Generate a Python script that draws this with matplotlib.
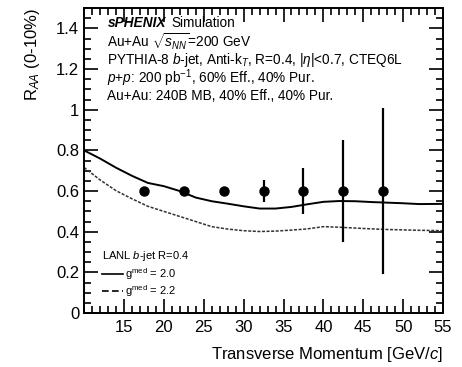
import matplotlib
matplotlib.use("Agg")
import matplotlib.pyplot as plt
from matplotlib.lines import Line2D
from matplotlib.ticker import MultipleLocator

plt.rcParams["font.family"] = ["Liberation Sans", "DejaVu Sans"]
plt.rcParams["mathtext.fontset"] = "custom"
plt.rcParams["mathtext.rm"] = "Liberation Sans"
plt.rcParams["mathtext.it"] = "Liberation Sans:italic"
plt.rcParams["mathtext.bf"] = "Liberation Sans:bold"

# projected sPHENIX b-jet R_AA points
pt_points = [17.5, 22.5, 27.5, 32.5, 37.5, 42.5, 47.5]
raa_points = [0.6, 0.6, 0.6, 0.6, 0.6, 0.6, 0.6]
raa_err = [0.01, 0.015, 0.02, 0.052, 0.113, 0.25, 0.41]

# LANL b-jet calculations
pt_curve = [10, 12, 14, 16, 18, 20, 22, 24, 26, 28, 30, 32, 34, 36, 38, 40,
            42, 44, 46, 48, 50, 52, 55]
raa_g20 = [0.80, 0.76, 0.715, 0.675, 0.64, 0.624, 0.60, 0.568, 0.55, 0.538,
           0.525, 0.514, 0.514, 0.522, 0.535, 0.547, 0.551, 0.55, 0.546,
           0.543, 0.54, 0.536, 0.537]
raa_g22 = [0.716, 0.655, 0.602, 0.562, 0.525, 0.50, 0.475, 0.45, 0.425, 0.413,
           0.405, 0.401, 0.403, 0.408, 0.414, 0.425, 0.422, 0.418, 0.414,
           0.411, 0.409, 0.407, 0.405]

x_ticks = [15, 20, 25, 30, 35, 40, 45, 50, 55]
y_ticks = [0, 0.2, 0.4, 0.6, 0.8, 1, 1.2, 1.4]
y_ticklabels = ["0", "0.2", "0.4", "0.6", "0.8", "1", "1.2", "1.4"]

fig = plt.figure(figsize=(4.62, 3.67), dpi=100)
ax = fig.add_axes([0.182, 0.147, 0.777, 0.831])

ax.plot(pt_curve, raa_g20, color="black", lw=1.4)
ax.plot(pt_curve, raa_g22, color="#333333", lw=1.1, ls=(0, (2, 1)))
ax.errorbar(pt_points, raa_points, yerr=raa_err, fmt="o", color="black",
            ms=6.5, elinewidth=1.6, capsize=0)

ax.set_xlim(10, 55)
ax.set_ylim(0, 1.5)
ax.set_xticks(x_ticks)
ax.xaxis.set_minor_locator(MultipleLocator(1))
ax.set_yticks(y_ticks)
ax.set_yticklabels(y_ticklabels)
ax.yaxis.set_minor_locator(MultipleLocator(0.05))
ax.tick_params(which="both", direction="in", top=True, right=True,
               labelsize=12, width=1.2)
ax.tick_params(which="major", length=10)
ax.tick_params(which="minor", length=5)
ax.tick_params(axis="x", pad=5)
for s in ax.spines.values():
    s.set_linewidth(1.4)

ax.set_xlabel(r"Transverse Momentum [GeV/$c$]", fontsize=12, loc="right",
              labelpad=7)
ax.set_ylabel(r"R$_{AA}$ (0-10%)", fontsize=12, loc="top")
ax.yaxis.set_label_coords(-0.117, 1.0)

# header text
fs = 9.8
y0 = 0.951
t1 = ax.text(0.065, y0, "sPHENIX", transform=ax.transAxes, fontsize=fs,
             fontweight="bold", fontstyle="italic", va="center")
ax.annotate("Simulation", xycoords=t1, xy=(1, 0), xytext=(4, 0),
            textcoords="offset points", fontsize=fs, va="bottom")
lines = [r"Au+Au $\sqrt{s_{NN}}$=200 GeV",
         r"PYTHIA-8 $b$-jet, Anti-k$_{T}$, R=0.4, |$\eta$|<0.7, CTEQ6L",
         r"$p$+$p$: 200 pb$^{-1}$, 60% Eff., 40% Pur.",
         r"Au+Au: 240B MB, 40% Eff., 40% Pur."]
for i, txt in enumerate(lines):
    ax.text(0.065, 0.889 - i * 0.059, txt, transform=ax.transAxes,
            fontsize=fs, va="center")

handles = [Line2D([], [], color="black", lw=1.2),
           Line2D([], [], color="black", lw=1.2, ls=(0, (4, 2)))]
leg = ax.legend(handles, [r"g$^{\rm med}$ = 2.0", r"g$^{\rm med}$ = 2.2"],
                title=r"LANL $b$-jet R=0.4", loc="lower left",
                bbox_to_anchor=(0.05, 0.045), frameon=False, fontsize=8,
                title_fontsize=8, handlelength=1.9, handletextpad=0.2,
                labelspacing=0.15, borderaxespad=0, borderpad=0)
leg._legend_box.align = "left"
leg._legend_box.sep = 2

fig.savefig("out.png", dpi=100)
